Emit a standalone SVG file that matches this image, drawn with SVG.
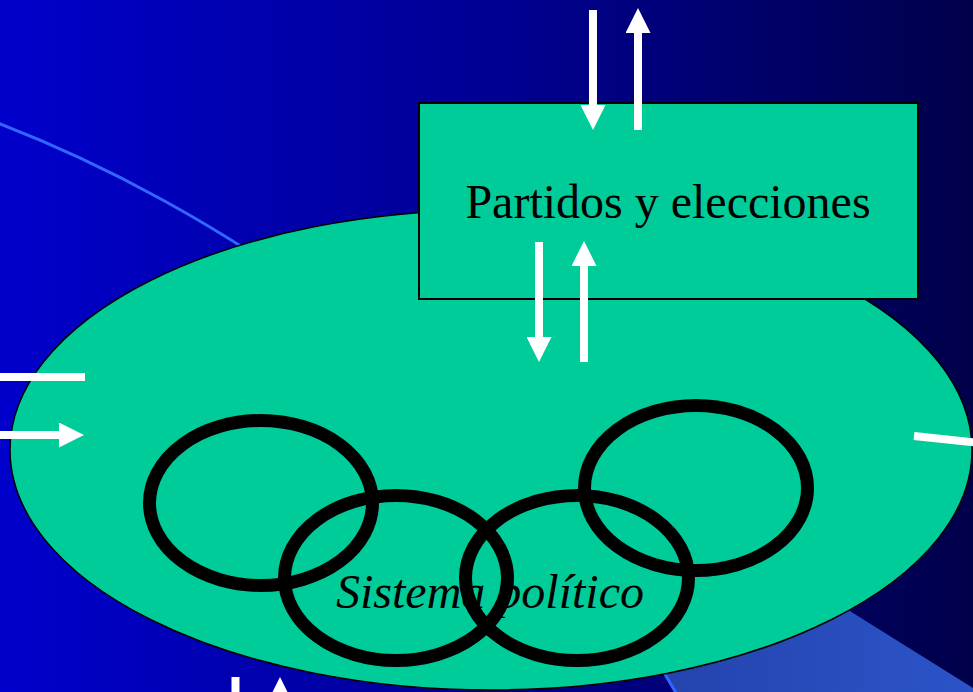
<svg xmlns="http://www.w3.org/2000/svg" width="973" height="692" viewBox="0 0 973 692">
  <defs>
    <linearGradient id="bg" x1="0" y1="0" x2="1" y2="0">
      <stop offset="0" stop-color="#0000cc"/>
      <stop offset="0.5" stop-color="#000094"/>
      <stop offset="1" stop-color="#00004a"/>
    </linearGradient>
    <linearGradient id="light" x1="600" y1="0" x2="973" y2="0" gradientUnits="userSpaceOnUse">
      <stop offset="0" stop-color="#2240a8"/>
      <stop offset="1" stop-color="#2c54c8"/>
    </linearGradient>
    <marker id="head" markerUnits="userSpaceOnUse" markerWidth="25" markerHeight="25" viewBox="0 0 25 25" refX="0" refY="12.5" orient="auto">
      <path d="M0,0 L25,12.5 L0,25 Z" fill="#ffffff"/>
    </marker>
    <style>
      .ring { fill: none; stroke: #000000; stroke-width: 13; }
      .flow { stroke: #ffffff; stroke-width: 8; fill: none; }
      .node { fill: #00cc99; stroke: #000000; }
      .lbl { font-family: "Liberation Serif", "Times New Roman", serif; font-size: 48px; fill: #000000; text-anchor: middle; }
    </style>
  </defs>

  <g id="background">
    <rect x="0" y="0" width="973" height="692" fill="url(#bg)"/>
    <path d="M420.2,380.8 C516.8,466.4 608,572 680,700 L973,700 L973,688 L853,613 L600,455 Z" fill="url(#light)"/>
    <path d="M -5,122 C 200,200 500,380 680,700" fill="none" stroke="#3366ff" stroke-width="3"/>
  </g>

  <g id="sistema-politico">
    <ellipse class="node" cx="491" cy="450" rx="481" ry="240" stroke-width="1.5"/>
    <text class="lbl" x="490" y="608" font-style="italic">Sistema político</text>
    <ellipse class="ring" cx="261" cy="503" rx="111.5" ry="82.5"/>
    <ellipse class="ring" cx="396" cy="578" rx="111.5" ry="82.5"/>
    <ellipse class="ring" cx="577" cy="578" rx="111.5" ry="82.5"/>
    <ellipse class="ring" cx="696" cy="488" rx="111.5" ry="82.5"/>
  </g>

  <g id="partidos-y-elecciones">
    <rect class="node" x="419" y="103" width="499" height="196" stroke-width="2"/>
    <text class="lbl" x="668" y="218">Partidos y elecciones</text>
  </g>

  <g id="connectors">
    <line class="flow" x1="593" y1="10" x2="593" y2="105" marker-end="url(#head)"/>
    <line class="flow" x1="638" y1="130" x2="638" y2="33" marker-end="url(#head)"/>
    <line class="flow" x1="539" y1="242" x2="539" y2="337" marker-end="url(#head)"/>
    <line class="flow" x1="584" y1="362" x2="584" y2="266" marker-end="url(#head)"/>
    <line class="flow" x1="0" y1="377" x2="85" y2="377"/>
    <line class="flow" x1="0" y1="435" x2="59" y2="435" marker-end="url(#head)"/>
    <line class="flow" x1="914" y1="436" x2="976" y2="442.5"/>
    <line class="flow" x1="235.5" y1="677" x2="235.5" y2="700"/>
    <line class="flow" x1="280" y1="712" x2="280" y2="702" marker-end="url(#head)"/>
  </g>
</svg>
